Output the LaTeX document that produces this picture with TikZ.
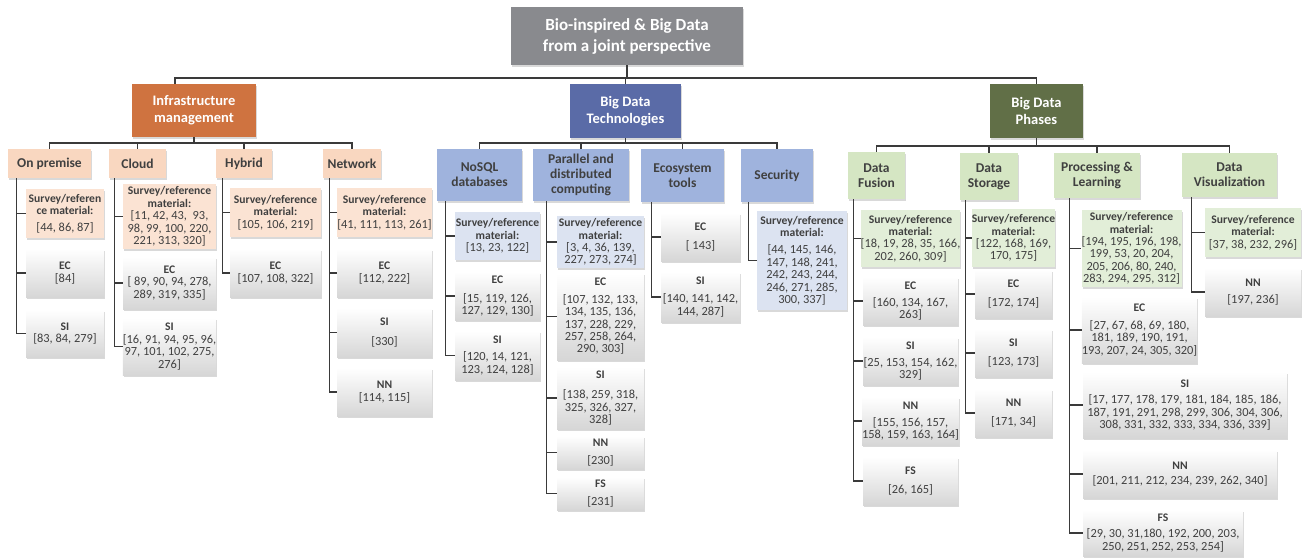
\documentclass[tikz,border=0pt]{standalone}
\usepackage{fontspec}
\setmainfont{Carlito}
\usetikzlibrary{shadows}

\definecolor{rootgray}{HTML}{898A8E}
\definecolor{infraC}{HTML}{CF7340}
\definecolor{techC}{HTML}{5A6BA7}
\definecolor{phaseC}{HTML}{616F47}
\definecolor{infraL}{HTML}{F9D7C0}
\definecolor{infraS}{HTML}{FBE3D3}
\definecolor{techL}{HTML}{9FB3DD}
\definecolor{techS}{HTML}{DCE3F1}
\definecolor{phaseL}{HTML}{D5E6C3}
\definecolor{phaseS}{HTML}{E2EED8}
\definecolor{ink}{HTML}{404040}
\definecolor{wire}{HTML}{3A3A3A}

% box by its corners: style, name, x1, y1, x2, y2, text
\newcommand\bx[7]{\node[#1, minimum width={(#5-#3)*1pt}, minimum height={(#6-#4)*1pt}] (#2) at ({(#3+#5)/2},{(#4+#6)/2}) {#7};}
\newcommand\ttl[1]{\textbf{\fontsize{11.6}{12.4}\selectfont #1}}
% elbow connectors from a trunk start to a list of leaves
\newcommand\branch[2]{\foreach \lf in {#2} {\draw[conn] (#1) |- (\lf.west);}}

\tikzset{
  base/.style={rectangle, inner sep=0pt, align=center,
    drop shadow={opacity=0.3, shadow xshift=1pt, shadow yshift=-1.5pt}},
  rootbox/.style={base, fill=rootgray, text=white, font=\fontsize{17}{21}\selectfont\bfseries},
  lvlone/.style={base, text=white, font=\fontsize{14.5}{17}\selectfont\bfseries},
  lvltwo/.style={base, text=ink, font=\fontsize{13.5}{15}\selectfont\bfseries},
  leaf/.style={base, text=ink, font=\fontsize{12.4}{12.4}\selectfont,
    top color=white, middle color=black!2, bottom color=black!16},
  survey/.style={base, text=ink, font=\fontsize{12.4}{12.4}\selectfont},
  conn/.style={draw=wire, line width=1.2pt},
}

\begin{document}
\begin{tikzpicture}[x=1pt, y=-1pt]
\useasboundingbox (0,0) rectangle (1304,558);

% top levels
\bx{rootbox}{root}{511}{7}{743}{65}{Bio-inspired \& Big Data\\from a joint perspective}
\bx{lvlone, fill=infraC}{infra}{132}{84}{256}{137}{Infrastructure\\management}
\bx{lvlone, fill=techC}{tech}{570}{84}{681}{138}{Big Data\\Technologies}
\bx{lvlone, fill=phaseC}{phases}{990}{84}{1083}{138}{Big Data\\Phases}

% second level
\bx{lvltwo, fill=infraL}{onprem}{8}{149}{91}{178}{On premise}
\bx{lvltwo, fill=infraL}{cloud}{109}{149}{166}{178}{Cloud}
\bx{lvltwo, fill=infraL}{hybrid}{216}{149}{272}{178}{Hybrid}
\bx{lvltwo, fill=infraL}{network}{323}{149}{381}{178}{Network}

\bx{lvltwo, fill=techL}{nosql}{437}{149}{522}{201}{NoSQL\\databases}
\bx{lvltwo, fill=techL}{parallel}{533}{149}{629}{201}{Parallel and\\distributed\\computing}
\bx{lvltwo, fill=techL}{eco}{641}{149}{724}{202}{Ecosystem\\tools}
\bx{lvltwo, fill=techL}{security}{741}{149}{813}{202}{Security}

\bx{lvltwo, fill=phaseL}{fusion}{848}{152}{905}{199}{Data\\Fusion}
\bx{lvltwo, fill=phaseL}{storage}{960}{153}{1018}{200}{Data\\Storage}
\bx{lvltwo, fill=phaseL}{processing}{1054}{153}{1140}{198}{Processing \&\\Learning}
\bx{lvltwo, fill=phaseL}{visual}{1182}{153}{1277}{197}{Data\\Visualization}

% infrastructure leaves
\bx{survey, fill=infraS}{ops}{26}{189}{104}{238}{\ttl{Survey/referen}\\\ttl{ce material:}\\[4pt]\relax[44, 86, 87]}
\bx{leaf}{opec}{26}{249}{104}{297}{\ttl{EC}\\\relax[84]}
\bx{leaf}{opsi}{26}{310}{104}{357}{\ttl{SI}\\\relax[83, 84, 279]}

\bx{survey, fill=infraS}{cls}{123}{184}{216}{249}{\ttl{Survey/reference}\\\ttl{material:}\\\relax[11, 42, 43, \ 93,\\98, 99, 100, 220,\\221, 313, 320]}
\bx{leaf}{clec}{123}{257}{216}{309}{\ttl{EC}\\\relax[ 89, 90, 94, 278,\\289, 319, 335]}
\bx{leaf}{clsi}{123}{318}{216}{375}{\ttl{SI}\\\relax[16, 91, 94, 95, 96,\\97, 101, 102, 275,\\276]}

\bx{survey, fill=infraS}{hys}{230}{188}{321}{237}{\ttl{Survey/reference}\\\ttl{material:}\\\relax[105, 106, 219]}
\bx{leaf}{hyec}{230}{249}{321}{297}{\ttl{EC}\\\relax[107, 108, 322]}

\bx{survey, fill=infraS}{nes}{337}{188}{432}{237}{\ttl{Survey/reference}\\\ttl{material:}\\\relax[41, 111, 113, 261]}
\bx{leaf}{neec}{337}{249}{432}{297}{\ttl{EC}\\\relax[112, 222]}
\bx{leaf}{nesi}{337}{308}{432}{357}{\ttl{SI}\\[7pt]\relax[330]}
\bx{leaf}{nenn}{337}{368}{432}{416}{\ttl{NN}\\\relax[114, 115]}

% technology leaves
\bx{survey, fill=techS}{nos}{455}{212}{540}{260}{\ttl{Survey/reference}\\\ttl{material:}\\\relax[13, 23, 122]}
\bx{leaf}{noec}{455}{272}{540}{320}{\ttl{EC}\\[7pt]\relax[15, 119, 126,\\127, 129, 130]}
\bx{leaf}{nosi}{455}{331}{540}{380}{\ttl{SI}\\[5pt]\relax[120, 14, 121,\\123, 124, 128]}

\bx{survey, fill=techS}{pas}{557}{216}{644}{268}{\ttl{Survey/reference}\\\ttl{material:}\\\relax[3, 4, 36, 139,\\227, 273, 274]}
\bx{leaf}{paec}{557}{273}{644}{360}{\ttl{EC}\\[5pt]\relax[107, 132, 133,\\134, 135, 136,\\137, 228, 229,\\257, 258, 264,\\290, 303]}
\bx{leaf}{pasi}{557}{367}{644}{429}{\ttl{SI}\\[8pt]\relax[138, 259, 318,\\325, 326, 327,\\328]}
\bx{leaf}{pann}{557}{436}{644}{469}{\ttl{NN}\\[5pt]\relax[230]}
\bx{leaf}{pafs}{557}{477}{644}{510}{\ttl{FS}\\[5pt]\relax[231]}

\bx{leaf}{ecec}{661}{213}{740}{261}{\ttl{EC}\\[6pt]\relax[ 143]}
\bx{leaf}{ecsi}{661}{272}{740}{322}{\ttl{SI}\\[6pt]\relax[140, 141, 142,\\144, 287]}

\bx{survey, fill=techS}{ses}{757}{211}{847}{310}{\ttl{Survey/reference}\\\ttl{material:}\\[5pt]\relax[44, 145, 146,\\147, 148, 241,\\242, 243, 244,\\246, 271, 285,\\300, 337]}

% phase leaves
\bx{survey, fill=phaseS}{fus}{863}{210}{958}{267}{\ttl{Survey/reference}\\\ttl{material:}\\\relax[18, 19, 28, 35, 166,\\202, 260, 309]}
\bx{leaf}{fuec}{863}{277}{958}{325}{\ttl{EC}\\[5pt]\relax[160, 134, 167,\\263]}
\bx{leaf}{fusi}{863}{337}{958}{385}{\ttl{SI}\\[5pt]\relax[25, 153, 154, 162,\\329]}
\bx{leaf}{funn}{863}{397}{958}{445}{\ttl{NN}\\[5pt]\relax[155, 156, 157,\\158, 159, 163, 164]}
\bx{leaf}{fufs}{863}{457}{958}{505}{\ttl{FS}\\[6pt]\relax[26, 165]}

\bx{survey, fill=phaseS}{sts}{975}{209}{1052}{267}{\ttl{Survey/reference}\\\ttl{material:}\\\relax[122, 168, 169,\\170, 175]}
\bx{leaf}{stec}{975}{270}{1052}{318}{\ttl{EC}\\[6pt]\relax[172, 174]}
\bx{leaf}{stsi}{975}{329}{1052}{377}{\ttl{SI}\\[6pt]\relax[123, 173]}
\bx{leaf}{stnn}{975}{389}{1052}{437}{\ttl{NN}\\[6pt]\relax[171, 34]}

\bx{survey, fill=phaseS}{prs}{1083}{210}{1180}{287}{\ttl{Survey/reference}\\\ttl{material:}\\\relax[194, 195, 196, 198,\\199, 53, 20, 204,\\205, 206, 80, 240,\\283, 294, 295, 312]}
\bx{leaf}{prec}{1083}{297}{1196}{363}{\ttl{EC}\\[5pt]\relax[27, 67, 68, 69, 180,\\181, 189, 190, 191,\\193, 207, 24, 305, 320]}
\bx{leaf}{prsi}{1083}{372}{1287}{438}{\ttl{SI}\\[4pt]\relax[17, 177, 178, 179, 181, 184, 185, 186,\\187, 191, 291, 298, 299, 306, 304, 306,\\308, 331, 332, 333, 334, 336, 339]}
\bx{leaf}{prnn}{1083}{450}{1277}{498}{\ttl{NN}\\[3pt]\relax[201, 211, 212, 234, 239, 262, 340]}
\bx{leaf}{prfs}{1083}{510}{1243}{556}{\ttl{FS}\\[4pt]\relax[29, 30, 31,180, 192, 200, 203,\\250, 251, 252, 253, 254]}

\bx{survey, fill=phaseS}{vis}{1205}{208}{1301}{257}{\ttl{Survey/reference}\\\ttl{material:}\\\relax[37, 38, 232, 296]}
\bx{leaf}{vinn}{1205}{268}{1301}{316}{\ttl{NN}\\[5pt]\relax[197, 236]}

% first-level bus
\coordinate (busY) at (0,78);
\coordinate (infraIn) at (175,84);
\draw[conn] (root.south) -- (root.south |- busY);
\draw[conn] (infraIn) |- (phases.north |- busY) -- (phases.north);
\draw[conn] (tech.north) -- (tech.north |- busY);

% second-level buses
\coordinate (busI) at (0,143);
\coordinate (busT) at (0,143);
\coordinate (busP) at (0,146);
\draw[conn] (infra.south) -- (infra.south |- busI);
\draw[conn] (onprem.north) |- (network.north |- busI) -- (network.north);
\draw[conn] (cloud.north) -- (cloud.north |- busI);
\draw[conn] (hybrid.north) -- (hybrid.north |- busI);

\draw[conn] (tech.south) -- (tech.south |- busT);
\draw[conn] (nosql.north) |- (security.north |- busT) -- (security.north);
\draw[conn] (parallel.north) -- (parallel.north |- busT);
\draw[conn] (eco.north) -- (eco.north |- busT);

\draw[conn] (phases.south) -- (phases.south |- busP);
\draw[conn] (fusion.north) |- (visual.north |- busP) -- (visual.north);
\draw[conn] (storage.north) -- (storage.north |- busP);
\draw[conn] (processing.north) -- (processing.north |- busP);

% trunks to the leaves
\coordinate (onpremT) at ([xshift=9pt]onprem.south west);
\coordinate (cloudT) at ([xshift=6pt]cloud.south west);
\coordinate (hybridT) at ([xshift=7pt]hybrid.south west);
\coordinate (networkT) at ([xshift=7pt]network.south west);
\coordinate (nosqlT) at ([xshift=9pt]nosql.south west);
\coordinate (parallelT) at ([xshift=14pt]parallel.south west);
\coordinate (ecoT) at ([xshift=11pt]eco.south west);
\coordinate (securityT) at ([xshift=8pt]security.south west);
\coordinate (fusionT) at ([xshift=6pt]fusion.south west);
\coordinate (storageT) at ([xshift=6pt]storage.south west);
\coordinate (processingT) at ([xshift=16pt]processing.south west);
\coordinate (visualT) at ([xshift=10pt]visual.south west);

\branch{onpremT}{ops,opec,opsi}
\branch{cloudT}{cls,clec,clsi}
\branch{hybridT}{hys,hyec}
\branch{networkT}{nes,neec,nesi,nenn}
\branch{nosqlT}{nos,noec,nosi}
\branch{parallelT}{pas,paec,pasi,pann,pafs}
\branch{ecoT}{ecec,ecsi}
\branch{securityT}{ses}
\branch{fusionT}{fus,fuec,fusi,funn,fufs}
\branch{storageT}{sts,stec,stsi,stnn}
\branch{processingT}{prs,prec,prsi,prnn,prfs}
\branch{visualT}{vis,vinn}
\end{tikzpicture}
\end{document}
